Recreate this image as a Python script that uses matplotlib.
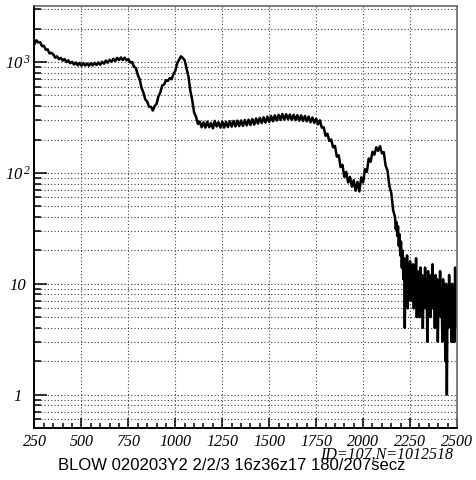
import numpy as np
import matplotlib
matplotlib.use("Agg")
import matplotlib.pyplot as plt
from matplotlib.ticker import MultipleLocator, LogLocator, NullFormatter, FixedLocator, FixedFormatter

# histogram contents (bins every 10 from 250 to 2160)
counts_main = [
    1460, 1570, 1500, 1510, 1390, 1400, 1290, 1300, 1195, 1210,   # 250
    1170, 1095, 1125, 1060, 1090, 1030, 1065, 1000, 1035, 975,    # 350
    1005, 950, 990, 935, 980, 925, 975, 930, 970, 925,            # 450
    975, 930, 985, 940, 990, 945, 1005, 965, 1030, 985,           # 550
    1045, 1005, 1070, 1020, 1090, 1040, 1100, 1040, 1095, 1035,   # 650
    1060, 990, 1000, 905, 885, 765, 700, 585, 530, 460,           # 750
    440, 395, 395, 365, 400, 420, 490, 530, 615, 625,             # 850
    685, 675, 715, 700, 775, 835, 975, 1045, 1125, 1085,          # 950
    1035, 870, 735, 550, 452, 350, 322, 276, 290, 258,            # 1050
    286, 256, 290, 258, 282, 252, 294, 262, 286, 256,             # 1150
    290, 256, 289, 259, 292, 261, 294, 262, 296, 264,             # 1250
    297, 265, 300, 268, 302, 270, 306, 272, 310, 278,             # 1350
    314, 281, 318, 284, 322, 288, 326, 292, 330, 296,             # 1450
    334, 300, 340, 302, 338, 304, 336, 300, 334, 298,             # 1550
    332, 296, 330, 294, 326, 292, 322, 286, 316, 282,             # 1650
    308, 274, 298, 256, 258, 216, 226, 194, 200, 170,             # 1750
    175, 140, 144, 113, 118, 92, 102, 82, 92, 75,                 # 1850
    86, 69, 83, 68, 91, 82, 108, 102, 135, 126,                   # 1950
    155, 146, 170, 158, 174, 150, 154, 116, 105, 76,              # 2050
    66, 46,                                                       # 2150
]
# noisy tail, bins every 4 from 2170 to 2498
counts_tail = [
    40, 31, 36, 27, 33, 22, 28, 18, 24, 14,    # 2170
    20, 11, 17, 4, 15, 9, 18, 6, 14, 8,        # 2210
    16, 7, 13, 9, 15, 6, 12, 8, 17, 5,         # 2250
    13, 7, 11, 5, 14, 8, 12, 4, 10, 7,         # 2290
    14, 6, 11, 3, 13, 7, 10, 5, 12, 6,         # 2330
    15, 6, 9, 4, 12, 7, 11, 3, 10, 6,          # 2370
    13, 5, 9, 3, 11, 6, 8, 2, 10, 1,           # 2410
    9, 4, 12, 5, 8, 3, 10, 3, 7, 3,            # 2450
    14, 4, 13,                                 # 2490
]

x_ticks = [250, 500, 750, 1000, 1250, 1500, 1750, 2000, 2250, 2500]
y_ticks = [1, 10, 100, 1000]
y_tick_labels = ["1", "10", r"$\mathit{10}^{\,\mathit{2}}$", r"$\mathit{10}^{\,\mathit{3}}$"]
footer = "BLOW 020203Y2 2/2/3 16z36z17 180/207secz"
id_text = "ID=107,N=1012518"

# tick labels in italic serif, like the PAW output
plt.rcParams["font.family"] = ["Liberation Serif", "DejaVu Serif"]
plt.rcParams["font.style"] = "italic"
plt.rcParams["mathtext.fontset"] = "custom"
plt.rcParams["mathtext.it"] = "Liberation Serif:italic"
plt.rcParams["mathtext.rm"] = "Liberation Serif:italic"

x_main = 250 + 10 * np.arange(len(counts_main))
x_tail = 2170 + 4 * np.arange(len(counts_tail))
x = np.concatenate([x_main, x_tail])
y = np.concatenate([counts_main, counts_tail])

fig = plt.figure(figsize=(4.77, 4.80), dpi=100)
ax = fig.add_axes([34.5 / 477, 52 / 480, 422.5 / 477, 422 / 480])

ax.plot(x, y, color="black", lw=1.8)

ax.set_yscale("log")
ax.set_xlim(250, 2500)
ax.set_ylim(0.5, 3200)

ax.xaxis.set_major_locator(FixedLocator(x_ticks))
ax.xaxis.set_minor_locator(MultipleLocator(50))
ax.yaxis.set_major_locator(FixedLocator(y_ticks))
ax.yaxis.set_major_formatter(FixedFormatter(y_tick_labels))
ax.yaxis.set_minor_locator(LogLocator(base=10, subs=np.arange(2, 10), numticks=50))
ax.yaxis.set_minor_formatter(NullFormatter())

ax.tick_params(axis="both", which="both", direction="in", top=False, right=False, width=1.1)
ax.tick_params(axis="x", which="major", length=7, pad=4, labelsize=11.5)
ax.tick_params(axis="x", which="minor", length=3.5)
ax.tick_params(axis="y", which="major", length=9, pad=12, labelsize=12)
ax.tick_params(axis="y", which="minor", length=5)

for lab in ax.get_yticklabels():
    lab.set_horizontalalignment("center")

grid_style = dict(color="0.25", linestyle=(0, (1, 2)), linewidth=0.8)
ax.grid(True, axis="x", which="major", **grid_style)
ax.grid(True, axis="y", which="both", **grid_style)

for side in ["left", "bottom"]:
    ax.spines[side].set_linewidth(1.4)
    ax.spines[side].set_color("black")
for side in ["top", "right"]:
    ax.spines[side].set_linewidth(1.2)
    ax.spines[side].set_color("0.4")

fig.text(453 / 477, 1 - 455 / 480, id_text, ha="right", va="center",
         family="Liberation Serif", style="italic", fontsize=11.5)
fig.text(58 / 477, 1 - 465 / 480, footer, ha="left", va="center",
         family="Liberation Sans", style="normal", fontsize=12)

fig.savefig("out.png", dpi=100)
